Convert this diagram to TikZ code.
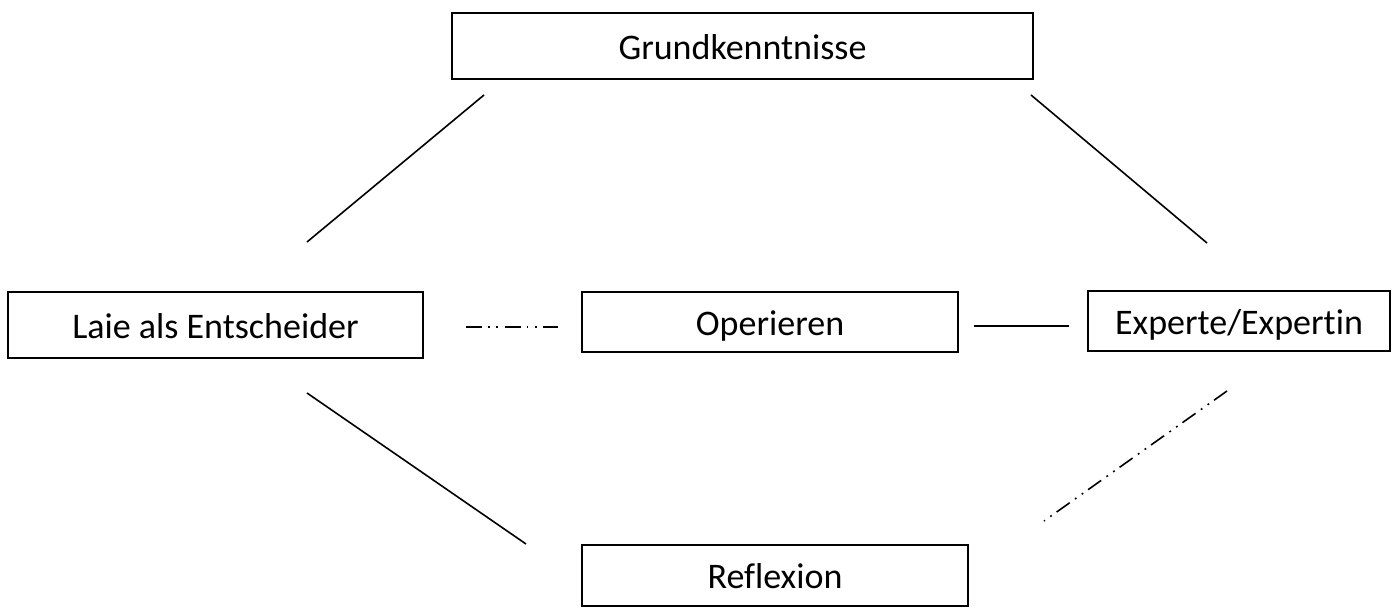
\documentclass[tikz,border=0pt]{standalone}
\usepackage{fontspec}
\setmainfont[Ligatures={NoCommon,NoRequired,NoContextual}]{Carlito}
\begin{document}
\begin{tikzpicture}[x=1pt,y=-1pt,
  box/.style={draw,line width=1.6pt,inner sep=0pt,text height=26pt,text depth=0pt,font=\fontsize{36}{42}\selectfont},
  conn/.style={line width=1.6pt},
  ddot/.style={line width=1.6pt,dash pattern=on 16pt off 6pt on 1.8pt off 6.5pt on 1.8pt off 6.5pt}]
\useasboundingbox (0,0) rectangle (1395,608);
\node[box,minimum width=581pt,minimum height=66pt] (g) at (742.5,46) {Grundkenntnisse};
\node[box,minimum width=415pt,minimum height=66pt] (l) at (215.5,325) {Laie als Entscheider};
\node[box,minimum width=376pt,minimum height=60pt] (o) at (770,322) {Operieren};
\node[box,minimum width=302pt,minimum height=60pt] (e) at (1239,321) {Experte/Expertin};
\node[box,minimum width=386pt,minimum height=61pt] (r) at (775,575.5) {Reflexion};
\coordinate (g1) at (484,95);
\coordinate (l1) at (307,242);
\coordinate (g2) at (1031,95);
\coordinate (e1) at (1207,243);
\coordinate (l2) at (307,393);
\coordinate (r1) at (526,544);
\coordinate (e2) at (1227,391);
\coordinate (r2) at (1044,521);
\coordinate (lo1) at (466,327);
\coordinate (lo2) at (558,327);
\coordinate (oe1) at (974,326);
\coordinate (oe2) at (1069,326);
\draw[conn] (g1) -- (l1);
\draw[conn] (g2) -- (e1);
\draw[conn] (l2) -- (r1);
\draw[ddot] (e2) -- (r2);
\draw[ddot] (lo1) -- (lo2);
\draw[conn] (oe1) -- (oe2);
\end{tikzpicture}
\end{document}
